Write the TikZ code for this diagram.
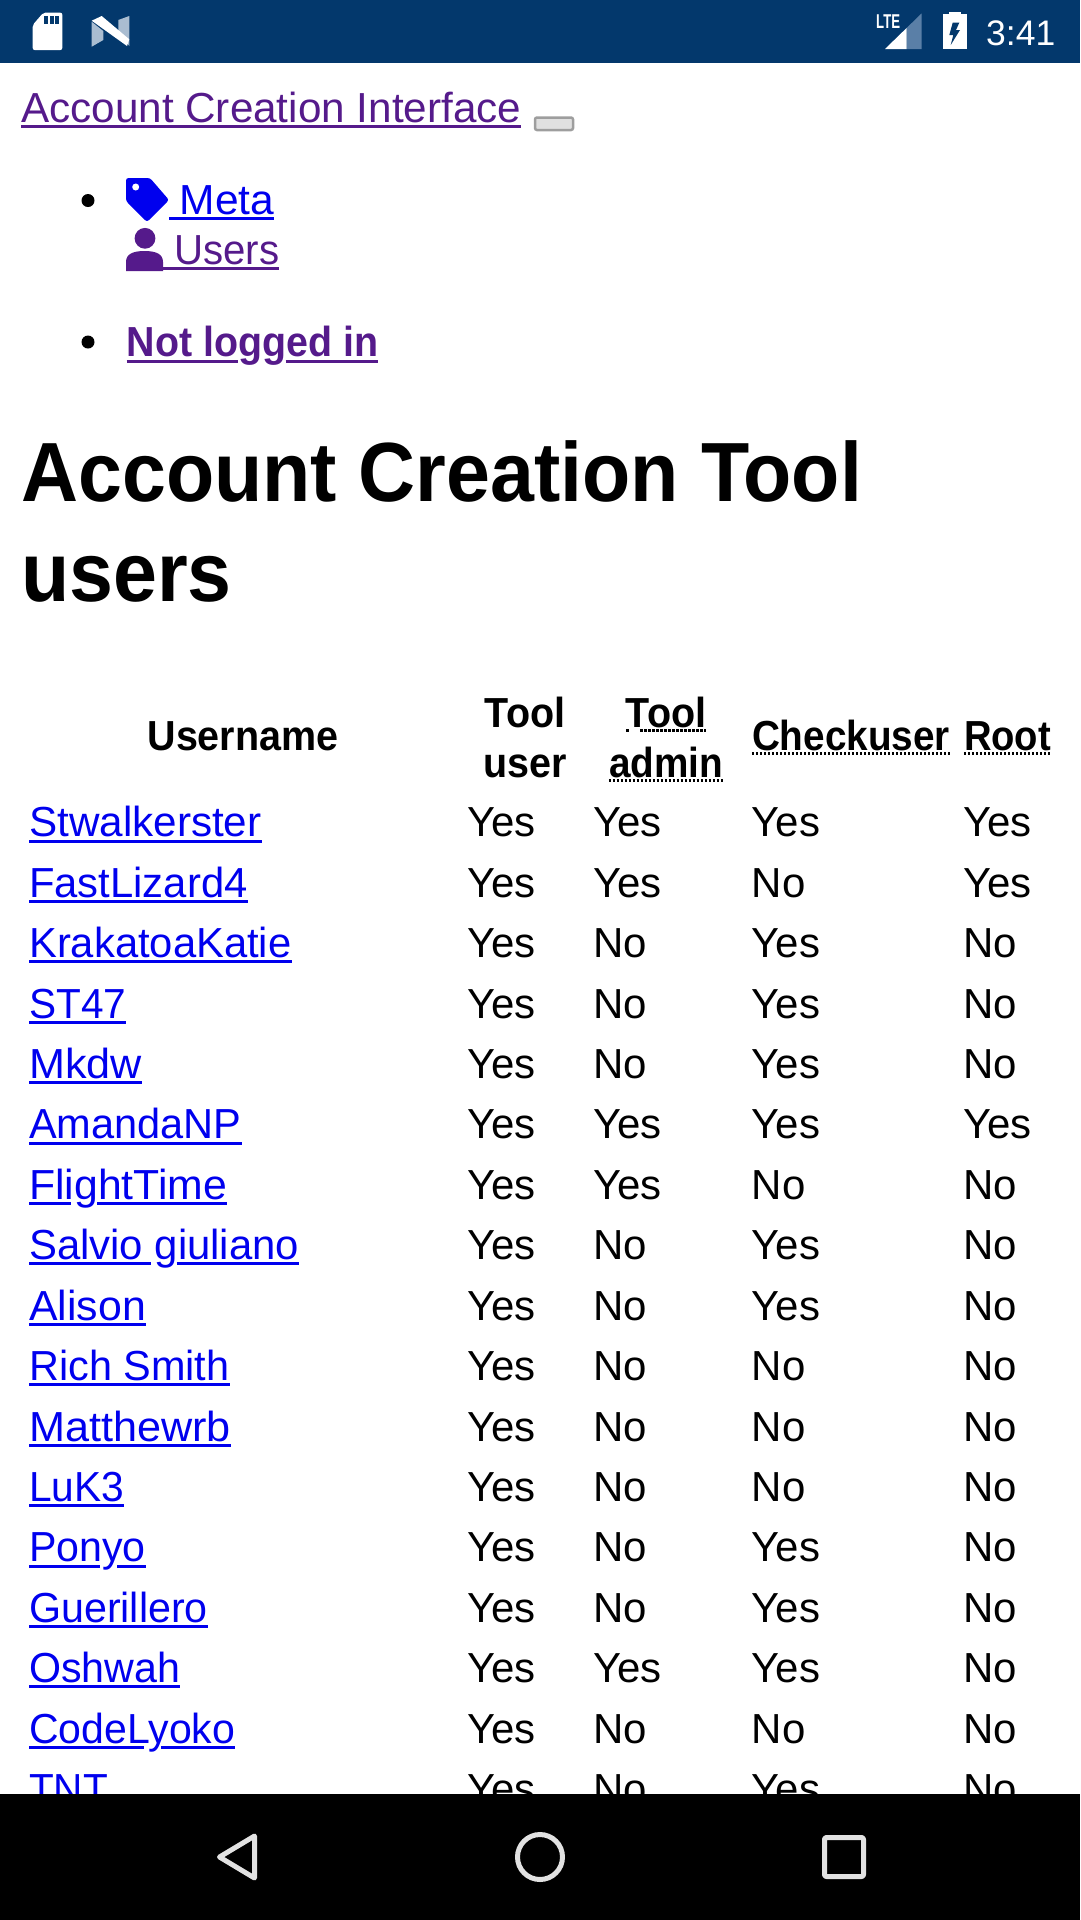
\documentclass[tikz,border=0pt]{standalone}
\usepackage{graphicx}
\usepackage{fontspec}
\setmainfont{Liberation Sans}
\newfontfamily\boldface[FakeStretch=0.94]{Liberation Sans Bold}
\newfontfamily\ltefont[FakeStretch=0.66]{Liberation Sans Bold}
\definecolor{statusblue}{HTML}{03386C}
\definecolor{statuspale}{HTML}{AABDD1}
\definecolor{statusmid}{HTML}{5A7FA7}
\definecolor{linkblue}{HTML}{0000EE}
\definecolor{linkpurple}{HTML}{551A8B}
\definecolor{navgrey}{HTML}{E2E2E2}
\newcommand{\fitwidth}[2]{\resizebox{#1pt}{\height}{#2}}
\tikzset{
  bodytext/.style={font=\fontsize{42}{49}\selectfont, inner sep=0pt, anchor=base west},
  headtext/.style={font=\fontsize{42}{49}\boldface\selectfont, inner sep=0pt, anchor=base},
  undermark/.style={line width=3pt},
  dotmark/.style={line width=3pt, dash pattern=on 2.6pt off 1.4pt},
  navicon/.style={draw=navgrey, line width=5pt, line join=round}
}
\begin{document}
\begin{tikzpicture}[x=1pt,y=-1pt]
  \useasboundingbox (0,0) rectangle (1080,1920);

%%%%%%%%%%%%%%%%%%%%%%%%%%%%%%%%%%%%%%%%%%
  % Page top
  \begin{scope}
    % Site title and button
    \node[bodytext, text=linkpurple] (title) at (21,122) {\fitwidth{500}{Account Creation Interface}};
    \draw[undermark, linkpurple] ([yshift=-4.5pt]title.base west) -- ([yshift=-4.5pt]title.base east);
    \draw[draw=black!38, fill=black!12, line width=2.5pt, rounded corners=2pt] (535,117.5) rectangle (573,130);

    % Bullets
    \fill (88,200.5) circle (6.5);
    \fill (88,342) circle (6.5);

    % Tag icon
    \fill[linkblue, rounded corners=2.5pt] (126,178) -- (150,178) -- (169,200) -- (147,222) -- (126,201) -- cycle;
    \fill[white] (135.7,187) circle (3.5);
    \node[bodytext, text=linkblue] (metalink) at (179.5,214) {\fitwidth{94.5}{Meta}};
    \draw[undermark, linkblue] ([xshift=-10.5pt,yshift=-4.5pt]metalink.base west) -- ([yshift=-4.5pt]metalink.base east);

    % Person icon
    \fill[linkpurple] (145,238.3) circle (10.4);
    \fill[linkpurple] (126,271) -- (126,262) .. controls (126,254) and (133,251) .. (144.6,251)
      .. controls (156,251) and (163,254) .. (163,262) -- (163,271) -- cycle;
    \node[bodytext, text=linkpurple] (userslink) at (174,264.5) {\fitwidth{105}{Users}};
    \draw[undermark, linkpurple] ([xshift=-11pt,yshift=-4pt]userslink.base west) -- ([yshift=-4pt]userslink.base east);

    % Login state
    \node[headtext, anchor=base west, text=linkpurple] (notlogged) at (126.5,356.5) {\fitwidth{251.5}{Not logged in}};
    \draw[undermark, linkpurple, dash pattern=on 111pt off 48pt on 300pt off 0pt]
      ([yshift=-4.5pt]notlogged.base west) -- ([yshift=-4.5pt]notlogged.base east);

    % Heading
    \node[inner sep=0pt, anchor=base west, font=\fontsize{84}{100}\boldface\selectfont] (headline) at (21,501) {Account Creation Tool};
    \node[inner sep=0pt, anchor=base west, font=\fontsize{84}{100}\boldface\selectfont] (headlinetwo) at (21,601) {users};
  \end{scope}

%%%%%%%%%%%%%%%%%%%%%%%%%%%%%%%%%%%%%%%%%%
  % Table
  \begin{scope}
    % Column heads
    \node[headtext] (colname) at (243,750) {\fitwidth{191}{Username}};
    \node[headtext] (coltool) at (525,727) {Tool};
    \node[headtext] (coltooltwo) at (525,777) {user};
    \node[headtext] (coladmin) at (666,727) {Tool};
    \node[headtext] (coladmintwo) at (666,777) {\fitwidth{114}{admin}};
    \node[headtext] (colcheck) at (851,750) {\fitwidth{198}{Checkuser}};
    \node[headtext] (colroot) at (1007.5,750) {\fitwidth{87}{Root}};

    % Dotted marks
    \draw[line width=3pt] (626,730.5) -- (629,730.5);
    \draw[dotmark] (640,730.5) -- (coladmin.base east |- 0,730.5);
    \draw[dotmark] (coladmintwo.base west |- 0,780) -- (coladmintwo.base east |- 0,780);
    \draw[dotmark] (colcheck.base west |- 0,753.5) -- (colcheck.base east |- 0,753.5);
    \draw[dotmark] (colroot.base west |- 0,753.5) -- (colroot.base east |- 0,753.5);

    % Rows, last three fields are the link end and the gap in its line
    \foreach \uname/\vone/\vtwo/\vthree/\vfour/\uend/\uon/\uoff [count=\r from 0] in {
      Stwalkerster/Yes/Yes/Yes/Yes/261.3/400/0,
      FastLizard4/Yes/Yes/No/Yes/247.3/400/0,
      KrakatoaKatie/Yes/No/Yes/No/291.3/400/0,
      ST47/Yes/No/Yes/No/126/400/0,
      Mkdw/Yes/No/Yes/No/141.7/400/0,
      AmandaNP/Yes/Yes/Yes/Yes/241.5/400/0,
      FlightTime/Yes/Yes/No/No/227/41.7/26.6,
      Salvio giuliano/Yes/No/Yes/No/299/121.7/26,
      Alison/Yes/No/Yes/No/145.7/400/0,
      Rich Smith/Yes/No/No/No/229.3/400/0,
      Matthewrb/Yes/No/No/No/230.7/400/0,
      LuK3/Yes/No/No/No/124/400/0,
      Ponyo/Yes/No/Yes/No/145.7/71/17.3,
      Guerillero/Yes/No/Yes/No/207.7/400/0,
      Oshwah/Yes/Yes/Yes/No/180/400/0,
      CodeLyoko/Yes/No/No/No/235/115/17,
      TNT/Yes/No/Yes/No/107.8/400/0} {
      \pgfmathsetmacro{\rowy}{836.8+60.42*\r}
      \pgfmathsetmacro{\uwidth}{\uend-29}
      \node[bodytext, text=linkblue] (user\r) at (29,\rowy) {\fitwidth{\uwidth}{\uname}};
      \draw[undermark, linkblue, dash pattern=on \uon pt off \uoff pt on 400pt off 0pt]
        ([yshift=-4.2pt]user\r.base west) -- ([yshift=-4.2pt]user\r.base east);
      \node[bodytext] (tool\r) at (467,\rowy) {\vone};
      \node[bodytext] (admin\r) at (593,\rowy) {\vtwo};
      \node[bodytext] (check\r) at (751.5,\rowy) {\vthree};
      \node[bodytext] (root\r) at (963,\rowy) {\vfour};
    }
  \end{scope}

%%%%%%%%%%%%%%%%%%%%%%%%%%%%%%%%%%%%%%%%%%
  % Status bar
  \begin{scope}
    \fill[statusblue] (0,0) rectangle (1080,63);

    % Card icon
    \fill[white, rounded corners=2pt] (32.7,25) -- (43.3,12.7) -- (62.3,12.7) -- (62.3,50) -- (32.7,50) -- cycle;
    \foreach \slot in {44,49.5,55}
      \fill[statusblue] (\slot,16) rectangle ++(4,8);

    % N icon
    \fill[statuspale] (91.7,21.7) -- (103.3,31) -- (103.3,40) -- (91.7,46.7) -- cycle;
    \fill[statuspale] (118.3,20) -- (129.3,16) -- (129.3,46) -- (118.3,31) -- cycle;
    \fill[white] (91.7,20.7) -- (101.7,16) -- (129.3,39.3) -- (127,46) -- cycle;

    % Signal
    \node[inner sep=0pt, anchor=base west, text=white, font=\fontsize{20}{20}\ltefont\selectfont] (lte) at (876,28.3) {LTE};
    \fill[statusmid] (921.7,13.3) -- (921.7,49) -- (906.7,49) -- (906.7,27.9) -- cycle;
    \fill[white] (885,49) -- (906.7,27.9) -- (906.7,49) -- cycle;

    % Battery
    \fill[white] (949.3,11.7) rectangle (960.7,14);
    \fill[white] (942.7,14) rectangle (967.3,49);
    \fill[statusblue] (952.7,22.7) -- (959.3,22.7) -- (956,30) -- (960,30) -- (950.7,45) -- (953.3,35) -- (949.3,35) -- cycle;

    % Clock
    \node[inner sep=0pt, anchor=base west, text=white, font=\fontsize{35.5}{36}\selectfont] (clock) at (986,45) {3:41};
  \end{scope}

%%%%%%%%%%%%%%%%%%%%%%%%%%%%%%%%%%%%%%%%%%
  % Navigation bar
  \begin{scope}
    \fill[black] (0,1794) rectangle (1080,1920);
    \draw[navicon] (254.5,1836) -- (219.5,1857) -- (254.5,1878) -- cycle;
    \draw[navicon] (540,1857) circle (22.5);
    \draw[navicon, rounded corners=2pt] (824.5,1837.5) rectangle (863.5,1876.5);
  \end{scope}

\end{tikzpicture}
\end{document}
